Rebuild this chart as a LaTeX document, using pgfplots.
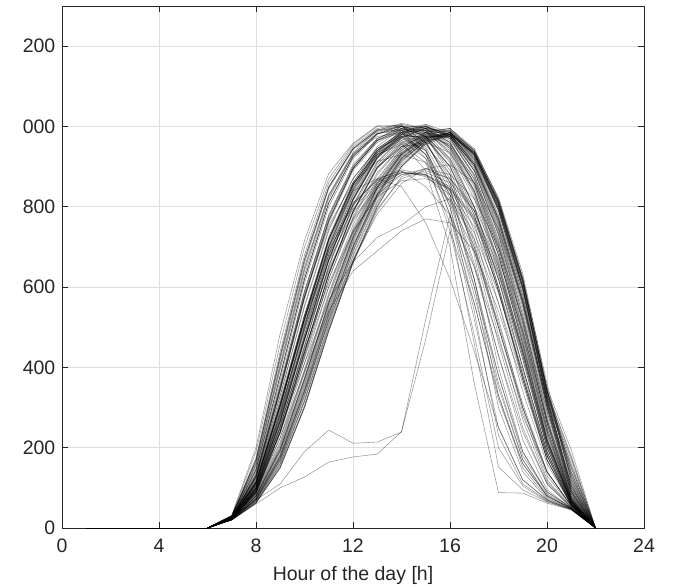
\documentclass[border=0pt]{standalone}
\usepackage{pgfplots}
\usepackage{pgfplotstable}
\pgfplotsset{compat=1.18}
\usepackage{fontspec}
\setmainfont{Liberation Sans}
\definecolor{axisgray}{RGB}{38,38,38}
\definecolor{gridgray}{RGB}{222,222,222}

% one row per day, hourly output from 6 h to 22 h
\pgfplotstableread[header=has colnames]{
id 6 7 8 9 10 11 12 13 14 15 16 17 18 19 20 21 22
d1 0 32 200 485 716 883 958 1002 1000 960 860 700 500 290 120 52 0
d2 0 30 175 440 680 860 950 995 1005 975 900 770 590 380 170 58 0
d3 0 30 165 420 660 845 945 990 1000 985 920 800 620 400 190 60 0
d4 0 28 150 395 630 820 930 985 1000 990 935 820 640 420 200 62 0
d5 0 28 140 370 610 800 920 980 1005 995 950 840 660 440 210 65 0
d6 0 27 135 360 590 780 905 970 995 975 880 720 500 300 140 55 0
d7 0 29 155 400 640 825 930 975 985 930 830 650 430 240 110 50 0
d8 0 26 125 340 570 760 890 960 990 985 940 830 650 430 200 63 0
d9 0 30 160 410 650 830 935 990 1008 995 945 835 655 435 205 64 0
d10 0 27 130 350 585 775 900 970 1000 1000 960 855 680 460 220 68 0
d11 0 25 110 300 520 720 860 950 995 1005 975 890 730 510 260 75 0
d12 0 25 105 285 500 700 845 940 990 1000 970 880 720 500 250 72 0
d13 0 24 100 270 480 680 830 930 985 1000 980 900 750 530 270 78 0
d14 0 24 95 260 465 665 815 920 975 995 975 895 740 520 265 76 0
d15 0 25 108 290 505 700 840 930 975 985 950 860 700 480 240 70 0
d16 0 23 92 250 450 650 800 905 965 990 980 910 770 560 300 85 0
d17 0 24 98 265 470 670 820 925 985 1005 985 905 755 540 280 80 0
d18 0 23 90 245 440 635 790 900 960 985 970 890 735 515 262 74 0
d19 0 25 112 305 525 720 855 940 980 970 900 780 590 380 180 60 0
d20 0 24 102 278 490 690 835 935 990 1002 970 875 705 485 240 70 0
d21 0 22 88 240 435 630 785 895 955 975 955 870 710 490 245 70 0
d22 0 25 115 310 530 725 860 945 985 990 950 850 680 455 220 66 0
d23 0 23 95 255 455 655 805 910 970 995 985 920 790 580 320 95 0
d24 0 24 100 272 482 682 828 925 978 992 960 868 700 478 235 68 0
d25 0 22 86 235 425 620 775 885 950 978 972 905 770 565 310 90 0
d26 0 20 62 150 300 490 660 800 900 960 985 940 823 634 350 194 0
d27 0 21 68 165 320 510 680 815 910 965 985 930 805 610 330 170 0
d28 0 21 72 175 340 530 700 830 920 970 985 925 790 590 320 150 0
d29 0 22 78 190 360 550 715 845 930 975 980 915 775 570 310 130 0
d30 0 22 82 200 375 565 730 855 935 975 975 905 760 555 300 110 0
d31 0 20 65 160 315 505 675 810 905 960 980 935 815 620 340 180 0
d32 0 23 85 210 390 580 740 860 940 980 990 930 795 595 330 100 0
d33 0 21 70 170 330 520 690 825 915 965 975 920 800 600 320 140 0
d34 0 22 80 195 370 560 725 850 935 978 992 940 810 610 345 115 0
d35 0 20 64 155 305 495 665 805 900 955 978 925 795 600 330 160 0
d36 0 23 88 215 395 585 745 865 945 985 995 945 820 625 360 120 0
d37 0 22 75 182 350 540 705 835 925 970 982 930 805 605 335 125 0
d38 0 21 73 178 345 535 700 830 920 968 985 935 812 615 342 135 0
d39 0 22 80 198 372 560 722 848 930 972 978 912 770 565 305 105 0
d40 0 26 120 320 530 700 810 865 885 880 840 750 600 400 190 60 0
d41 0 25 115 305 510 680 795 860 888 875 830 735 585 390 185 58 0
d42 0 25 110 295 495 665 785 855 885 878 845 765 620 420 200 62 0
d43 0 24 100 275 470 640 765 845 880 885 860 790 650 450 220 66 0
d44 0 26 118 315 520 690 805 870 890 850 780 650 470 280 140 55 0
d45 0 23 95 255 445 610 740 825 865 870 845 770 630 430 210 64 0
d46 0 24 105 280 475 645 770 850 885 880 850 775 635 440 212 65 0
d47 0 20 62 150 300 490 660 790 875 895 880 820 700 520 290 100 0
d48 0 21 66 160 315 500 665 795 870 890 870 800 670 490 270 90 0
d49 0 25 105 285 500 700 845 930 960 890 700 360 88 87 62 45 0
d50 0 26 115 305 520 710 850 930 955 910 760 460 152 95 65 46 0
d51 0 27 125 330 550 740 870 945 975 930 800 540 230 110 68 47 0
d52 0 25 108 290 505 705 850 935 970 940 830 600 300 140 72 48 0
d53 0 26 112 300 515 715 855 935 965 920 810 620 360 170 78 50 0
d54 0 26 115 310 530 720 840 870 850 760 620 440 250 120 70 46 0
d55 0 22 70 110 190 244 211 214 239 520 780 600 380 180 90 50 0
d56 0 20 60 100 127 164 177 184 240 470 740 560 330 160 80 48 0
d57 0 23 95 250 410 567 662 724 754 800 820 720 560 370 180 58 0
d58 0 22 88 225 390 540 640 690 740 770 760 690 540 360 170 56 0
d59 0 31 190 460 700 870 955 1000 1003 940 820 620 380 190 90 50 0
d60 0 29 170 430 670 850 945 992 1002 960 860 690 460 250 110 52 0
d61 0 28 145 380 620 810 925 982 1000 975 890 740 520 300 130 55 0
d62 0 26 128 345 575 765 895 965 993 990 930 800 600 370 170 60 0
d63 0 25 112 305 522 718 855 940 982 995 960 860 690 470 230 70 0
d64 0 24 98 265 470 668 818 922 980 1000 975 890 730 510 260 75 0
d65 0 23 90 240 438 632 788 898 958 982 975 905 765 560 300 85 0
d66 0 22 80 195 370 560 725 850 932 972 985 935 810 615 345 130 0
d67 0 21 70 172 335 525 695 828 918 962 982 930 800 600 325 150 0
d68 0 20 63 152 302 492 662 800 900 958 980 932 812 622 340 175 0
d69 0 29 170 430 670 850 945 992 990 930 780 560 320 160 80 48 0
d70 0 28 145 380 620 810 925 982 995 950 840 660 430 220 95 50 0
d71 0 26 128 345 575 765 895 965 990 960 870 710 480 270 115 52 0
d72 0 25 112 305 522 718 855 940 980 970 900 760 560 340 160 58 0
d73 0 24 98 265 470 668 818 922 975 975 920 800 620 400 190 62 0
d74 0 23 90 240 438 632 788 898 950 960 935 840 680 460 220 66 0
d75 0 21 74 180 340 515 667 782 858 895 905 860 745 565 315 105 0
d76 0 22 88 238 423 601 736 830 880 895 870 790 640 440 215 66 0
d77 0 25 115 310 518 690 805 868 892 880 815 690 500 300 140 55 0
d78 0 27 135 353 577 753 860 913 930 910 840 700 510 310 140 55 0
d79 0 25 112 305 522 718 855 940 975 940 780 520 250 120 70 47 0
d80 0 24 98 265 470 668 818 922 972 965 850 620 330 150 75 48 0
d81 0 26 128 345 575 765 895 965 985 920 740 480 200 105 66 46 0
d82 0 23 90 240 438 632 788 898 950 955 880 680 400 190 85 49 0
d83 0 28 145 380 620 810 925 982 990 945 800 580 350 170 82 48 0
d84 0 21 72 176 342 532 700 832 922 968 984 936 815 620 348 140 0
d85 0 22 76 185 355 545 712 840 928 972 988 942 818 618 340 120 0
d86 0 23 84 205 385 575 736 858 940 982 990 932 800 598 325 105 0
d87 0 22 79 192 365 555 720 846 932 976 984 926 796 592 318 112 0
d88 0 21 69 168 328 518 688 822 914 964 980 932 808 612 338 155 0
d89 0 24 92 225 410 600 755 870 945 985 995 940 805 600 320 95 0
d90 0 24 96 240 430 620 770 880 950 988 995 935 790 580 305 90 0
d91 0 26 122 330 555 745 870 945 985 995 965 880 715 495 250 72 0
d92 0 27 132 355 590 778 900 968 1000 995 955 860 690 465 225 67 0
d93 0 25 104 282 495 695 840 935 985 1000 978 900 745 528 272 80 0
d94 0 24 100 268 475 675 822 925 980 998 980 908 762 550 290 84 0
d95 0 23 94 252 452 652 805 912 972 995 988 918 780 572 312 92 0
d96 0 29 158 405 645 828 932 982 995 975 915 790 600 380 180 58 0
d97 0 30 168 425 665 848 942 988 1000 980 910 780 590 370 170 56 0
d98 0 27 128 348 580 770 895 965 995 990 945 840 665 445 215 66 0
}\rawdays
\pgfplotstabletranspose[colnames from=id, input colnames to=hour]\days\rawdays

\begin{document}
\begin{tikzpicture}
\fontsize{19.5bp}{23bp}\selectfont
\path[use as bounding box] (-62bp,-59bp) rectangle (617bp,528bp);
\begin{axis}[
  at={(0,0)}, anchor=south west,
  scale only axis, width=582bp, height=522bp,
  xmin=0, xmax=24, ymin=0, ymax=1300,
  xtick={0,4,...,24},
  xticklabels={0,4,8,12,16,20,24},
  ytick={0,200,...,1200},
  yticklabels={0,200,400,600,800,000,200},
  /pgf/number format/assume math mode=true,
  tick align=inside,
  major tick length=6bp,
  tick style={axisgray, line width=0.6bp},
  axis line style={axisgray, line width=0.6bp},
  grid=major,
  major grid style={gridgray, line width=0.6bp},
  ticklabel style={font=\fontsize{19.5bp}{23bp}\selectfont, text=axisgray},
  xticklabel style={yshift=-4bp},
  xlabel={Hour of the day [h]},
  xlabel style={font=\fontsize{19.5bp}{23bp}\selectfont, text=axisgray, yshift=-1bp},
  clip=true,
]
\pgfplotsinvokeforeach{1,...,98}{
  \addplot[black, opacity=0.4, line width=0.55bp, mark=none] table[x=hour, y=d#1] {\days};
}
\addplot[black, line width=0.8bp, mark=none] coordinates {(1,0) (6,0)};
\end{axis}
\end{tikzpicture}
\end{document}
